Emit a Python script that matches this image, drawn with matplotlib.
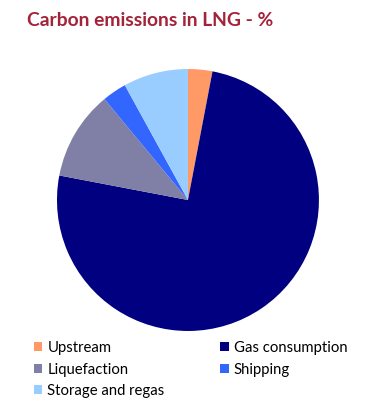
import matplotlib.pyplot as plt

# data
labels = ['Upstream', 'Gas consumption', 'Liquefaction', 'Shipping', 'Storage and regas']
shares = [3, 75, 11, 3, 8]
colors = ['#FF9966', '#000080', '#8080A6', '#3366FF', '#99CCFF']

plt.rcParams['font.family'] = ['Lato', 'DejaVu Sans']

fig = plt.figure(figsize=(3.7, 4.0), dpi=100)
ax = fig.add_axes([0.154, 0.1725, 0.708, 0.655])
wedges, _ = ax.pie(shares, colors=colors, startangle=90, counterclock=False,
                   wedgeprops=dict(linewidth=0))
ax.set_aspect('equal')
ax.set_xlim(-1, 1)
ax.set_ylim(-1, 1)

fig.text(0.073, 0.948, 'Carbon emissions in LNG - %', fontsize=13.9,
         fontweight='bold', color='#A3233A', va='center', ha='left')

# legend filled column by column -> reorder to match rows
order = [0, 2, 4, 1, 3]
leg = fig.legend([wedges[i] for i in order], [labels[i] for i in order],
                 ncol=2, loc='upper left', bbox_to_anchor=(0.092, 0.147),
                 frameon=False, fontsize=10.7, handlelength=0.55, handleheight=0.55,
                 handletextpad=0.35, columnspacing=3.75, labelspacing=0.5,
                 borderpad=0, borderaxespad=0)

fig.savefig('out.png', dpi=100)
